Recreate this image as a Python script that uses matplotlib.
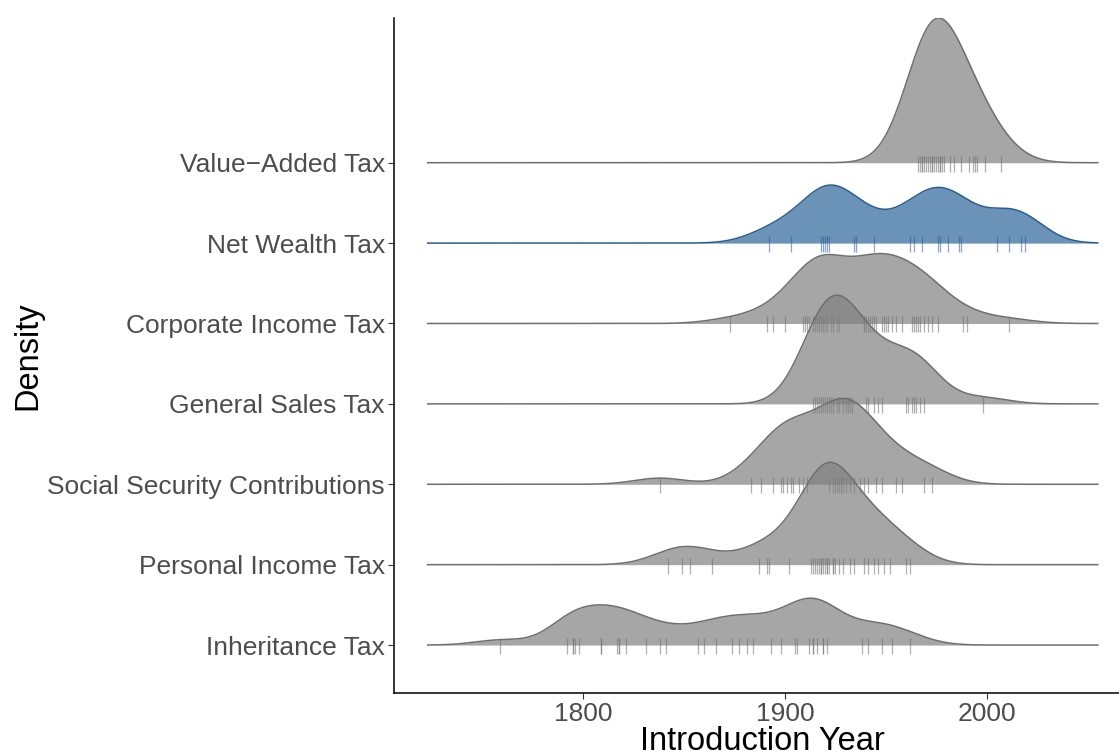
import numpy as np
import matplotlib
matplotlib.use("Agg")
import matplotlib.pyplot as plt

plt.rcParams['font.family'] = ['Liberation Sans', 'DejaVu Sans']

# introduction years per tax, bottom ridge first
taxes = ['Inheritance Tax', 'Personal Income Tax', 'Social Security Contributions',
         'General Sales Tax', 'Corporate Income Tax', 'Net Wealth Tax', 'Value\u2212Added Tax']

inheritance = [1759, 1792, 1795, 1795, 1796, 1798, 1809, 1809, 1817, 1818, 1818, 1821,
               1831, 1838, 1841, 1857, 1860, 1866, 1874, 1877, 1881, 1884,
               1893, 1898, 1905, 1906, 1912, 1914, 1914, 1916, 1919, 1919, 1921, 1938,
               1941, 1948, 1953, 1962]
personal_income = [1842, 1849, 1853, 1864, 1887, 1891, 1892, 1902, 1913, 1914, 1915,
                   1916, 1917, 1918, 1918, 1919, 1920, 1921, 1921, 1922, 1924, 1924, 1925,
                   1927, 1929, 1932, 1934, 1939, 1941, 1944, 1946, 1949, 1952, 1960, 1962]
social_security = [1838, 1883, 1888, 1894, 1898, 1899, 1901, 1903, 1904, 1907, 1909, 1911,
                   1922, 1924, 1925, 1926, 1927, 1928, 1929, 1930, 1932, 1934, 1937, 1939,
                   1941, 1945, 1948, 1955, 1958, 1969, 1973]
general_sales = [1914, 1915, 1916, 1917, 1918, 1919, 1920, 1921, 1922, 1923, 1924, 1926,
                 1927, 1929, 1930, 1931, 1932, 1933, 1940, 1941, 1944, 1946, 1948, 1960,
                 1961, 1963, 1964, 1965, 1967, 1969, 1998]
corporate_income = [1873, 1891, 1894, 1900, 1909, 1910, 1911, 1912, 1914, 1915, 1916, 1917,
                    1918, 1919, 1920, 1921, 1923, 1924, 1926, 1927, 1939, 1939, 1940, 1941,
                    1942, 1943, 1944, 1945, 1948, 1949, 1950, 1951, 1953, 1955, 1958, 1963,
                    1964, 1965, 1966, 1967, 1969, 1971, 1973, 1976, 1988, 1990, 2011]
net_wealth = [1892, 1903, 1918, 1919, 1920, 1921, 1922, 1934, 1935, 1944, 1962, 1964,
              1968, 1976, 1977, 1981, 1986, 1987, 2005, 2011, 2017, 2019]
value_added = [1966, 1967, 1968, 1968, 1969, 1970, 1971, 1972, 1973, 1973, 1974, 1975,
               1976, 1977, 1977, 1978, 1979, 1982, 1984, 1987, 1991, 1993, 1994, 1995,
               1999, 2007]

years = [inheritance, personal_income, social_security, general_sales,
         corporate_income, net_wealth, value_added]
highlight = 'Net Wealth Tax'

bw = 12.5
scale = 1.8
grid = np.linspace(1723, 2055, 600)


def kde(x, grid, bw):
    x = np.asarray(x, dtype=float)
    z = (grid[:, None] - x[None, :]) / bw
    return np.exp(-0.5 * z ** 2).sum(axis=1) / (len(x) * bw * np.sqrt(2 * np.pi))


dens = [kde(y, grid, bw) for y in years]
top = max(d.max() for d in dens)

fig = plt.figure(figsize=(11.19, 7.56), dpi=100)
ax = fig.add_axes([394 / 1119, 62.7 / 756, (1131.7 - 394) / 1119, 675.3 / 756])

for i, (name, d, y) in enumerate(zip(taxes, dens, years)):
    base = i + 1
    h = d / top * scale
    if name == highlight:
        fill, edge = '#2c6499', '#2a5d8f'
    else:
        fill, edge = '#808080', '#6e6e6e'
    z = 20 - 2 * i
    ax.fill_between(grid, base, base + h, color=fill, alpha=0.7, lw=0, zorder=z)
    ax.plot(grid, base + h, color=edge, lw=1.1, zorder=z + 0.5)
    ax.scatter(y, np.full(len(y), base - 0.012), marker='|', s=120, lw=0.9,
               color=edge, alpha=0.55, zorder=z + 0.5)

ax.set_xlim(1706.3, 2071.8)
ax.set_ylim(0.4, 8.8)
ax.set_xticks([1800, 1900, 2000])
ax.set_yticks(range(1, len(taxes) + 1))
ax.set_yticklabels(taxes)
ax.tick_params(labelsize=19, labelcolor='#4d4d4d', length=4, width=0.8, color='#333333', pad=2.5)
ax.spines['top'].set_visible(False)
ax.spines['right'].set_visible(False)
ax.spines['left'].set_linewidth(1.1)
ax.spines['bottom'].set_linewidth(1.1)
ax.set_xlabel('Introduction Year', fontsize=23.5, labelpad=0)
ax.set_ylabel('Density', fontsize=23.5, labelpad=3)

fig.savefig('out.png', dpi=100)
